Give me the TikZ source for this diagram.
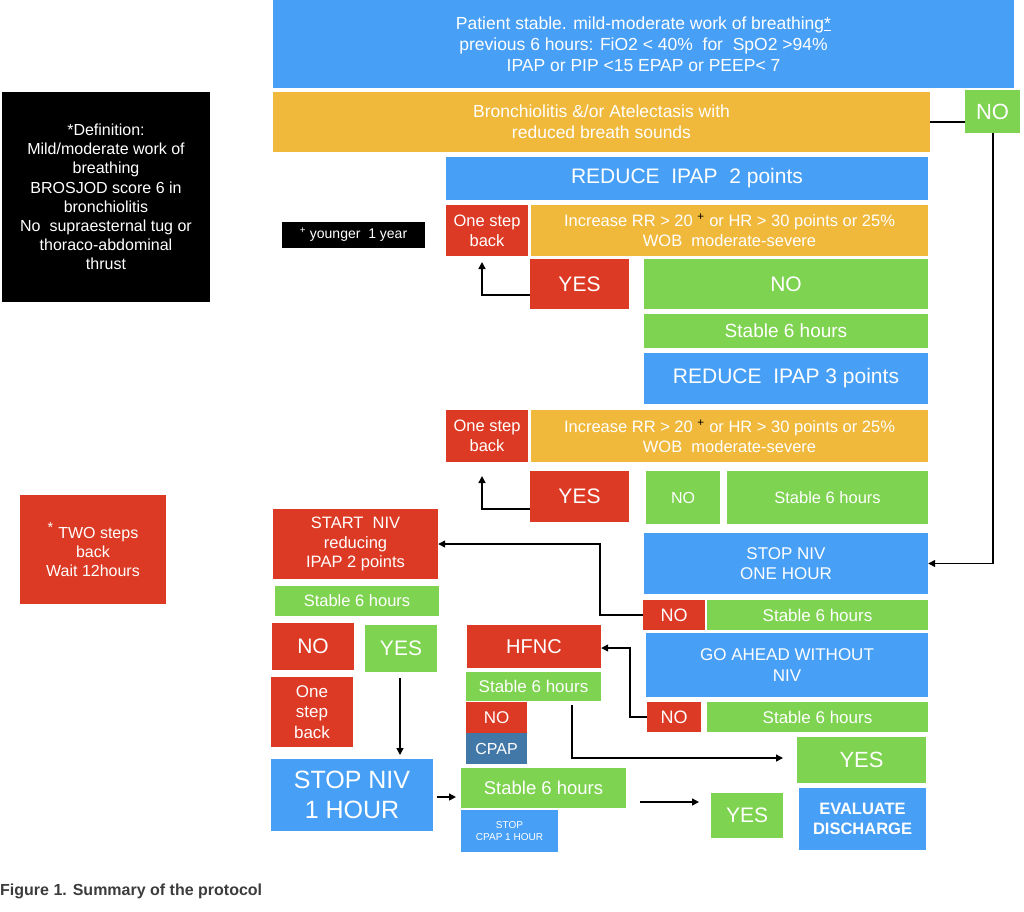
\documentclass[tikz,border=0pt]{standalone}
\usepackage{fontspec}
\setmainfont{Liberation Sans}
\usetikzlibrary{arrows.meta}
\definecolor{cb}{RGB}{72,160,246}
\definecolor{co}{RGB}{240,185,60}
\definecolor{cg}{RGB}{126,211,80}
\definecolor{cr}{RGB}{220,58,36}
\definecolor{cs}{RGB}{66,120,168}
\definecolor{cap}{RGB}{60,60,60}
\tikzset{box/.style={draw=none,text=white,align=center,inner sep=1pt},
 ln/.style={line width=1.4pt,black},
 ar/.style={ln,-{Triangle[length=7pt,width=7pt]}}}
\newcommand\B[8]{\node[box,fill=#2,minimum width={#5-#3},minimum height={#6-#4},font=\fontsize{#7}{\dimexpr#7pt*12/10\relax}\selectfont] (#1) at ({(#3+#5)/2},{(#4+#6)/2}) {#8};}
\begin{document}
\begin{tikzpicture}[x=1pt,y=-1pt]
\useasboundingbox (0,0) rectangle (1024,911);
\B{top}{cb}{273}{0}{1014}{88}{17.5}{Patient stable. mild-moderate work of breathing\underline{*}\\previous 6 hours: FiO2 < 40\%\ \ for\ \ SpO2 >94\%\\IPAP or PIP <15 EPAP or PEEP< 7}
\B{bro}{co}{273}{92}{930}{152}{17.5}{Bronchiolitis \&/or Atelectasis with\\reduced breath sounds}
\B{no0}{cg}{965}{90}{1020}{133}{22}{NO}
\B{def}{black}{2}{92}{210}{302}{16}{*Definition:\\Mild/moderate work of\\breathing\\BROSJOD score 6 in\\bronchiolitis\\No\ \ supraesternal tug or\\thoraco-abdominal\\thrust}
\B{yng}{black}{282}{222}{425}{248}{14}{\textsuperscript{+} younger\ \ 1 year}
\B{r2}{cb}{446}{157}{928}{200}{21}{REDUCE\ \ IPAP\ \ 2 points}
\B{osb1}{cr}{446}{205}{528}{256}{16.5}{One step\\back}
\B{inc1}{co}{531}{205}{928}{256}{16.5}{Increase RR > 20 \textcolor{black}{\textsuperscript{+}} or HR > 30 points or 25\%\\WOB\ \ moderate-severe}
\B{yes1}{cr}{530}{259}{629}{309}{21}{YES}
\B{no1}{cg}{644}{259}{928}{309}{21}{NO}
\B{st1}{cg}{644}{314}{928}{348}{19}{Stable 6 hours}
\B{r3}{cb}{644}{353}{928}{404}{21}{REDUCE\ \ IPAP\ 3 points}
\B{osb2}{cr}{446}{410}{528}{462}{16.5}{One step\\back}
\B{inc2}{co}{531}{410}{928}{462}{16.5}{Increase RR > 20 \textcolor{black}{\textsuperscript{+}} or HR > 30 points or 25\%\\WOB\ \ moderate-severe}
\B{yes2}{cr}{530}{471}{629}{522}{21}{YES}
\B{no2}{cg}{646}{471}{720}{524}{16}{NO}
\B{st2}{cg}{727}{471}{928}{524}{16.5}{Stable 6 hours}
\B{stop}{cb}{644}{533}{928}{594}{17}{STOP NIV\\ONE HOUR}
\B{no3}{cr}{643}{600}{705}{630}{18}{NO}
\B{st3}{cg}{707}{600}{928}{630}{17}{Stable 6 hours}
\B{go}{cb}{646}{633}{928}{697}{17}{GO AHEAD WITHOUT\\NIV}
\B{no4}{cr}{647}{702}{701}{732}{18}{NO}
\B{st4}{cg}{707}{702}{928}{732}{17}{Stable 6 hours}
\B{yes3}{cg}{797}{737}{926}{783}{22}{YES}
\B{eval}{cb}{799}{788}{926}{850}{16.5}{\bfseries EVALUATE\\\bfseries DISCHARGE}
\B{yes4}{cg}{711}{793}{783}{838}{21}{YES}
\B{two}{cr}{20}{495}{166}{604}{16}{\textsuperscript{\Large *} TWO steps\\back\\Wait 12hours}
\B{start}{cr}{273}{509}{438}{579}{16.5}{START\ \ NIV\\reducing\\IPAP 2 points}
\B{st5}{cg}{275}{586}{439}{616}{16.5}{Stable 6 hours}
\B{no5}{cr}{272}{623}{354}{670}{21}{NO}
\B{yes5}{cg}{365}{625}{437}{672}{21}{YES}
\B{osb3}{cr}{271}{677}{353}{747}{17}{One\\step\\back}
\B{sn}{cb}{271}{759}{433}{831}{25}{STOP NIV\\1 HOUR}
\B{hf}{cr}{467}{625}{601}{668}{20}{HFNC}
\B{st6}{cg}{466}{672}{601}{701}{17}{Stable 6 hours}
\B{no6}{cr}{466}{702}{527}{733}{17}{NO}
\B{cpap}{cs}{466}{733}{527}{764}{16}{CPAP}
\B{st7}{cg}{461}{768}{626}{808}{18.5}{Stable 6 hours}
\B{scp}{cb}{461}{810}{558}{852}{10}{STOP\\CPAP 1 HOUR}
\node[anchor=west,text=cap,font=\fontsize{16}{18}\selectfont\bfseries,inner sep=0] (capt) at (0,891) {Figure 1. Summary of the protocol};
% connectors
\draw[ln] (bro.east) -- (no0.west |- bro.east);
\coordinate (a1) at (993,133);
\draw[ar] (a1) |- (stop.east);
\coordinate (b1) at (482,262);
\draw[ar] (yes1.west |- 0,295) -| (b1);
\coordinate (b2) at (482,476);
\draw[ar] (yes2.west |- 0,509) -| (b2);
\draw[ar] (no3.west) -| (600,544) -- (start.east |- 0,544);
\draw[ar] (no4.west) -| (630,648) -- (hf.east |- 0,648);
\draw[ar] (400,678) -- (400,755);
\draw[ar] (437,797) -- (456,797);
\coordinate (c1) at (572,705);
\draw[ar] (c1) |- (783,758);
\draw[ar] (640,802) -- (699,802);
\end{tikzpicture}
\end{document}
